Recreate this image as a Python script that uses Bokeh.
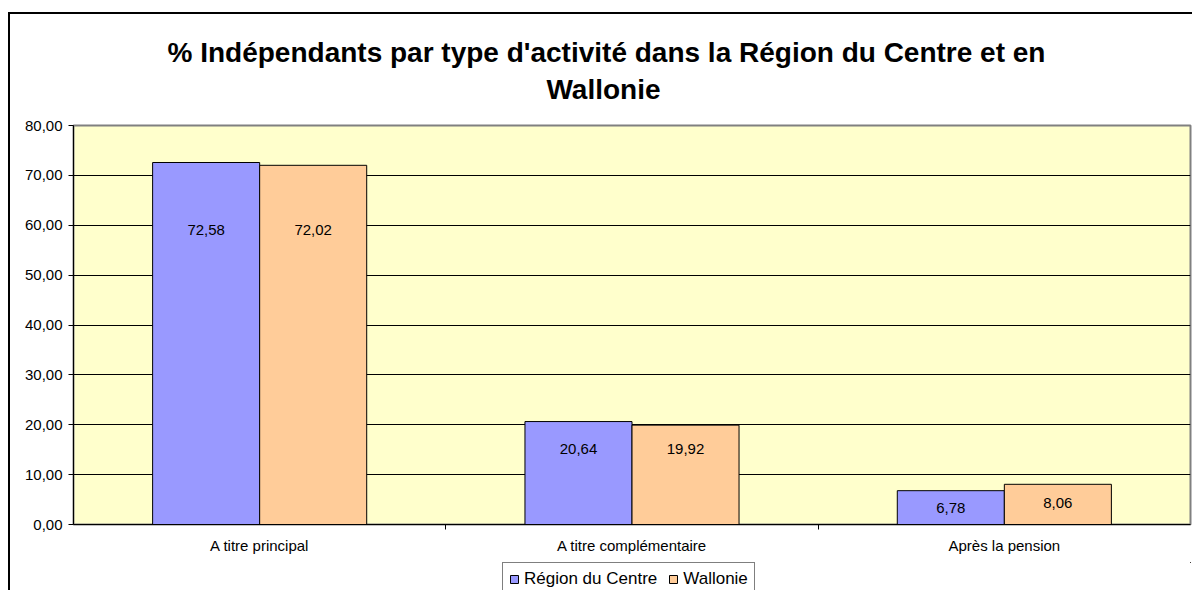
from bokeh.plotting import figure
from bokeh.models import (ColumnDataSource, FixedTicker, Legend, LegendItem, Label,
                          Spacer)
from bokeh.layouts import row, column
from bokeh.core.properties import value
from bokeh.embed import file_html
from bokeh.resources import INLINE

categories = ["A titre principal", "A titre complémentaire", "Après la pension"]
series_names = ["Région du Centre", "Wallonie"]
centre = [72.58, 20.64, 6.78]
wallonie = [72.02, 19.92, 8.06]
# heights (in axis units) where the reference draws each value label
centre_label_at = [59.1, 15.2, 3.4]
wallonie_label_at = [59.0, 15.1, 4.4]
y_ticks = [0, 10, 20, 30, 40, 50, 60, 70, 80]
title_lines = ["% Indépendants par type d'activité dans la Région du Centre et en", "Wallonie"]

FONT = "Liberation Sans"
BLUE = "#9999FF"
ORANGE = "#FFCC99"
BAR_W = 0.2875


def fr(v):
    return f"{v:.2f}".replace(".", ",")


def bare(fig):
    fig.outline_line_color = None
    fig.background_fill_color = "white"
    fig.border_fill_color = "white"
    fig.xgrid.grid_line_color = None
    fig.ygrid.grid_line_color = None


idx = list(range(len(categories)))
src_c = ColumnDataSource(dict(
    x=[i + 0.5 - BAR_W / 2 for i in idx], top=centre, ly=centre_label_at,
    txt=[fr(v) for v in centre]))
src_w = ColumnDataSource(dict(
    x=[i + 0.5 + BAR_W / 2 for i in idx], top=wallonie, ly=wallonie_label_at,
    txt=[fr(v) for v in wallonie]))

# ---- title strip ----
tfig = figure(width=1182, height=101, output_backend="svg", toolbar_location=None,
              x_axis_location=None, y_axis_location=None, min_border=0,
              x_range=(0, 1), y_range=(0, 1), title=None)
bare(tfig)
tfig.add_layout(Label(x=533, y=63, x_units="screen", y_units="screen", text=title_lines[0],
                      text_align="center", text_baseline="alphabetic",
                      text_font=FONT, text_font_style="bold", text_font_size="28px",
                      text_color="black"))
tfig.add_layout(Label(x=530, y=26, x_units="screen", y_units="screen", text=title_lines[1],
                      text_align="center", text_baseline="alphabetic",
                      text_font=FONT, text_font_style="bold", text_font_size="28px",
                      text_color="black"))

# ---- main chart ----
p = figure(width=1182, height=447, output_backend="svg", toolbar_location=None,
           x_range=(0, len(categories)), y_range=(y_ticks[0], y_ticks[-1]),
           min_border_left=63, min_border_right=2, min_border_top=10,
           min_border_bottom=38, title=None)
p.background_fill_color = "#FFFFCC"
p.border_fill_color = "white"
p.outline_line_color = "#808080"
p.outline_line_width = 2

r_c = p.vbar(x="x", top="top", width=BAR_W, bottom=0, source=src_c,
             fill_color=BLUE, line_color="black", line_width=1)
r_w = p.vbar(x="x", top="top", width=BAR_W, bottom=0, source=src_w,
             fill_color=ORANGE, line_color="black", line_width=1)

for s in (src_c, src_w):
    p.text(x="x", y="ly", text="txt", source=s, text_align="center",
           text_baseline="middle", text_font=value(FONT),
           text_font_size="15px", text_color="black")

p.yaxis.ticker = FixedTicker(ticks=y_ticks)
p.yaxis.major_label_overrides = {t: fr(t) for t in y_ticks}
p.yaxis.major_label_text_font = FONT
p.yaxis.major_label_text_font_size = "15px"
p.yaxis.major_label_text_color = "black"
p.yaxis.axis_line_color = "black"
p.yaxis.axis_line_width = 1
p.yaxis.major_tick_in = 0
p.yaxis.major_tick_out = 5
p.yaxis.major_tick_line_color = "black"
p.yaxis.minor_tick_line_color = None
p.yaxis.major_label_standoff = 6

centers = [i + 0.5 for i in idx]
p.xaxis.ticker = FixedTicker(ticks=centers, minor_ticks=list(range(1, len(categories))))
p.xaxis.major_label_overrides = {c: cat for c, cat in zip(centers, categories)}
p.xaxis.major_tick_line_color = None
p.xaxis.major_tick_in = 0
p.xaxis.major_tick_out = 5
p.xaxis.minor_tick_in = 0
p.xaxis.minor_tick_out = 5
p.xaxis.minor_tick_line_color = "black"
p.xaxis.axis_line_color = "black"
p.xaxis.major_label_text_font = FONT
p.xaxis.major_label_text_font_size = "15px"
p.xaxis.major_label_text_color = "black"
p.xaxis.major_label_standoff = 7

p.xgrid.grid_line_color = None
p.ygrid.ticker = FixedTicker(ticks=y_ticks[1:-1])
p.ygrid.grid_line_color = "black"
p.ygrid.grid_line_width = 1

# ---- legend strip (same bars, kept out of its view, only their keys show) ----
leg = figure(width=1182, height=28, output_backend="svg", toolbar_location=None,
             x_axis_location=None, y_axis_location=None, min_border=0,
             x_range=(-20, -19), y_range=(-2000, -1999), title=None)
bare(leg)
k_c = leg.vbar(x="x", top="top", width=BAR_W, bottom=0, source=src_c,
               fill_color=BLUE, line_color="black", line_width=1)
k_w = leg.vbar(x="x", top="top", width=BAR_W, bottom=0, source=src_w,
               fill_color=ORANGE, line_color="black", line_width=1)

legend = Legend(items=[LegendItem(label=series_names[0], renderers=[k_c]),
                       LegendItem(label=series_names[1], renderers=[k_w])],
                orientation="horizontal", location=(429, -6))
legend.border_line_color = "black"
legend.border_line_width = 1
legend.background_fill_color = "white"
legend.background_fill_alpha = 1
legend.glyph_width = 10
legend.glyph_height = 10
legend.label_text_font = FONT
legend.label_text_font_size = "17px"
legend.label_text_color = "black"
legend.label_standoff = 5
legend.spacing = 11
legend.padding = 6
legend.margin = 0
legend.label_height = 16
leg.add_layout(legend, "center")

# outer chart border (black left and top edges), built from plain layout spacers
top_edge = Spacer(width=1184, height=2, styles={"background-color": "black"})
left_edge = Spacer(width=2, height=576, styles={"background-color": "black"})
layout = column(Spacer(width=1192, height=12),
                row(Spacer(width=8, height=578),
                    column(top_edge, row(left_edge, column(tfig, p, leg)))))

open("out.html", "w").write(file_html(layout, INLINE))
